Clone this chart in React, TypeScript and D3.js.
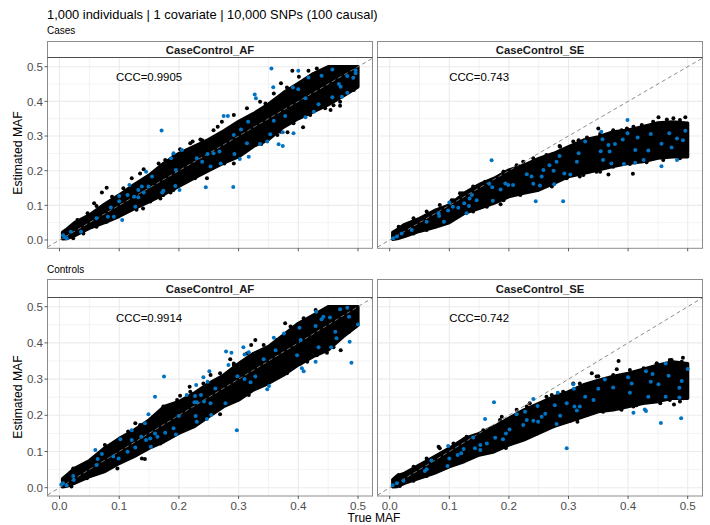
import React from "react";
import * as d3 from "d3";

type Pt = [number, number];

const titleText = "1,000 individuals | 1 covariate | 10,000 SNPs (100 causal)";
const tickValues = [0, 0.1, 0.2, 0.3, 0.4, 0.5];
const minorValues = [0.05, 0.15, 0.25, 0.35, 0.45];

// the ~10,000 black SNPs overlap into a solid mass, so it is kept as lower/upper edges read per MAF station
const stations = [0.005, 0.0125, 0.025, 0.05, 0.075, 0.1, 0.125, 0.15, 0.175, 0.2, 0.225, 0.25, 0.275, 0.3, 0.325, 0.35, 0.375, 0.4, 0.425, 0.45, 0.475, 0.5];

const casesAfLow = [0.003, 0.004, 0.012, 0.034, 0.05, 0.068, 0.09, 0.11, 0.132, 0.155, 0.178, 0.2, 0.222, 0.24, 0.27, 0.29, 0.325, 0.35, 0.37, 0.39, 0.415, 0.442];
const casesAfHigh = [0.022, 0.032, 0.05, 0.072, 0.103, 0.13, 0.16, 0.187, 0.222, 0.25, 0.27, 0.29, 0.315, 0.342, 0.365, 0.392, 0.425, 0.452, 0.48, 0.5, 0.5, 0.5];
const casesSeLow = [0.002, 0.004, 0.01, 0.025, 0.036, 0.05, 0.077, 0.091, 0.106, 0.125, 0.135, 0.144, 0.163, 0.183, 0.192, 0.202, 0.212, 0.221, 0.226, 0.236, 0.24, 0.24];
const casesSeHigh = [0.022, 0.03, 0.045, 0.062, 0.085, 0.101, 0.135, 0.16, 0.178, 0.202, 0.216, 0.235, 0.25, 0.269, 0.288, 0.298, 0.312, 0.317, 0.327, 0.338, 0.341, 0.337];
const controlsAfLow = [0.002, 0.004, 0.012, 0.03, 0.044, 0.067, 0.086, 0.109, 0.127, 0.15, 0.168, 0.196, 0.224, 0.242, 0.27, 0.288, 0.311, 0.339, 0.362, 0.38, 0.417, 0.449];
const controlsAfHigh = [0.025, 0.035, 0.053, 0.075, 0.109, 0.136, 0.159, 0.187, 0.224, 0.238, 0.261, 0.288, 0.311, 0.343, 0.371, 0.39, 0.422, 0.454, 0.477, 0.5, 0.5, 0.5];
const controlsSeLow = [0.002, 0.003, 0.012, 0.026, 0.04, 0.058, 0.072, 0.09, 0.099, 0.118, 0.132, 0.15, 0.169, 0.182, 0.196, 0.21, 0.215, 0.224, 0.233, 0.238, 0.247, 0.247];
const controlsSeHigh = [0.022, 0.033, 0.04, 0.063, 0.086, 0.109, 0.136, 0.15, 0.169, 0.192, 0.215, 0.233, 0.251, 0.265, 0.284, 0.297, 0.308, 0.316, 0.327, 0.339, 0.348, 0.343];

// black dots sitting on the rim of each mass
const casesAfRim: Pt[] = [[0.03, 0.058], [0.047, 0.077], [0.062, 0.098], [0.088, 0.125], [0.107, 0.149], [0.121, 0.178], [0.135, 0.192], [0.166, 0.221], [0.177, 0.231], [0.191, 0.245], [0.219, 0.279], [0.236, 0.29], [0.258, 0.317], [0.272, 0.341], [0.292, 0.361], [0.314, 0.38], [0.336, 0.399], [0.359, 0.423], [0.381, 0.44], [0.401, 0.471], [0.417, 0.488], [0.431, 0.495], [0.023, 0.005], [0.04, 0.019], [0.062, 0.038], [0.079, 0.053], [0.107, 0.077], [0.129, 0.087], [0.152, 0.111], [0.174, 0.13], [0.191, 0.144], [0.219, 0.183], [0.241, 0.197], [0.269, 0.221], [0.292, 0.245], [0.32, 0.269], [0.342, 0.284], [0.365, 0.303], [0.392, 0.337], [0.42, 0.361], [0.445, 0.38], [0.47, 0.399], [0.493, 0.433]];
const casesSeRim: Pt[] = [[0.015, 0.038], [0.04, 0.0625], [0.062, 0.082], [0.084, 0.101], [0.107, 0.115], [0.118, 0.135], [0.14, 0.154], [0.16, 0.168], [0.191, 0.197], [0.213, 0.216], [0.241, 0.236], [0.263, 0.245], [0.286, 0.269], [0.308, 0.284], [0.331, 0.296], [0.353, 0.306], [0.375, 0.317], [0.398, 0.322], [0.423, 0.332], [0.442, 0.341], [0.465, 0.348], [0.487, 0.346], [0.017, 0.008], [0.04, 0.019], [0.062, 0.029], [0.09, 0.048], [0.112, 0.067], [0.14, 0.082], [0.163, 0.096], [0.191, 0.115], [0.219, 0.13], [0.247, 0.144], [0.272, 0.154], [0.297, 0.178], [0.325, 0.1875], [0.347, 0.197], [0.375, 0.2115], [0.403, 0.219], [0.431, 0.224], [0.459, 0.231], [0.487, 0.236]];
const controlsAfRim: Pt[] = [[0.023, 0.053], [0.046, 0.067], [0.068, 0.095], [0.09, 0.122], [0.115, 0.155], [0.135, 0.173], [0.157, 0.196], [0.174, 0.224], [0.197, 0.242], [0.219, 0.265], [0.241, 0.288], [0.269, 0.316], [0.292, 0.339], [0.314, 0.371], [0.342, 0.394], [0.364, 0.408], [0.387, 0.445], [0.409, 0.468], [0.429, 0.491], [0.02, 0.003], [0.046, 0.026], [0.068, 0.044], [0.09, 0.063], [0.115, 0.086], [0.141, 0.104], [0.163, 0.127], [0.191, 0.148], [0.219, 0.173], [0.241, 0.196], [0.264, 0.219], [0.292, 0.242], [0.32, 0.274], [0.348, 0.293], [0.376, 0.32], [0.404, 0.343], [0.431, 0.366], [0.459, 0.388], [0.485, 0.431]];
const controlsSeRim: Pt[] = [[0.015, 0.035], [0.04, 0.058], [0.062, 0.081], [0.084, 0.109], [0.107, 0.122], [0.129, 0.141], [0.157, 0.159], [0.185, 0.187], [0.213, 0.215], [0.235, 0.233], [0.263, 0.251], [0.291, 0.265], [0.319, 0.288], [0.347, 0.307], [0.375, 0.311], [0.403, 0.325], [0.426, 0.33], [0.448, 0.343], [0.47, 0.353], [0.49, 0.348], [0.017, 0.005], [0.04, 0.019], [0.062, 0.032], [0.084, 0.049], [0.112, 0.067], [0.14, 0.086], [0.163, 0.097], [0.191, 0.113], [0.219, 0.132], [0.247, 0.15], [0.275, 0.17], [0.303, 0.185], [0.331, 0.201], [0.358, 0.21], [0.386, 0.219], [0.414, 0.228], [0.442, 0.238], [0.47, 0.242], [0.493, 0.247]];

const casesAfStray: Pt[] = [[0.079, 0.151], [0.071, 0.137], [0.058, 0.106], [0.141, 0.204], [0.265, 0.327], [0.39, 0.488], [0.371, 0.452], [0.47, 0.387], [0.408, 0.325], [0.382, 0.311], [0.37, 0.3125], [0.353, 0.303], [0.338, 0.277], [0.292, 0.221], [0.276, 0.221], [0.247, 0.178], [0.227, 0.178], [0.188, 0.144], [0.186, 0.137], [0.169, 0.12], [0.14, 0.091], [0.202, 0.262], [0.223, 0.284], [0.239, 0.288], [0.345, 0.394], [0.459, 0.389], [0.454, 0.375]];
const casesAfCausal: Pt[] = [[0.355, 0.495], [0.4, 0.488], [0.171, 0.316], [0.327, 0.42], [0.329, 0.409], [0.358, 0.441], [0.275, 0.358], [0.282, 0.358], [0.391, 0.44], [0.4, 0.435], [0.457, 0.492], [0.496, 0.49], [0.482, 0.473], [0.492, 0.468], [0.496, 0.481], [0.417, 0.469], [0.439, 0.474], [0.468, 0.45], [0.471, 0.442], [0.482, 0.425], [0.473, 0.413], [0.457, 0.412], [0.434, 0.392], [0.412, 0.409], [0.426, 0.37], [0.412, 0.354], [0.378, 0.358], [0.359, 0.344], [0.316, 0.341], [0.292, 0.303], [0.304, 0.319], [0.314, 0.279], [0.353, 0.305], [0.374, 0.311], [0.392, 0.308], [0.367, 0.276], [0.374, 0.271], [0.348, 0.284], [0.336, 0.277], [0.317, 0.24], [0.302, 0.234], [0.293, 0.248], [0.268, 0.255], [0.258, 0.25], [0.248, 0.248], [0.23, 0.236], [0.239, 0.226], [0.253, 0.212], [0.27, 0.221], [0.245, 0.152], [0.291, 0.153], [0.205, 0.26], [0.191, 0.25], [0.187, 0.236], [0.195, 0.202], [0.194, 0.156], [0.201, 0.144], [0.174, 0.142], [0.172, 0.137], [0.145, 0.197], [0.155, 0.183], [0.149, 0.154], [0.138, 0.154], [0.132, 0.144], [0.141, 0.137], [0.125, 0.125], [0.132, 0.123], [0.127, 0.096], [0.117, 0.159], [0.114, 0.13], [0.1, 0.127], [0.1, 0.112], [0.086, 0.094], [0.081, 0.067], [0.091, 0.067], [0.062, 0.0625], [0.105, 0.058], [0.036, 0.024], [0.019, 0.024], [0.009, 0.008], [0.006, 0.014], [0.012, 0.005]];

const casesSeStray: Pt[] = [[0.451, 0.354], [0.476, 0.351], [0.496, 0.354], [0.35, 0.322], [0.408, 0.191], [0.367, 0.189], [0.353, 0.197], [0.186, 0.103], [0.122, 0.135], [0.333, 0.197], [0.319, 0.183], [0.285, 0.271], [0.263, 0.236], [0.409, 0.327], [0.389, 0.317], [0.431, 0.322], [0.468, 0.245], [0.48, 0.242], [0.317, 0.288], [0.224, 0.226], [0.191, 0.197], [0.146, 0.154], [0.104, 0.115]];
const casesSeCausal: Pt[] = [[0.171, 0.23], [0.399, 0.346], [0.355, 0.3125], [0.399, 0.308], [0.357, 0.291], [0.328, 0.284], [0.367, 0.274], [0.378, 0.277], [0.391, 0.29], [0.416, 0.296], [0.438, 0.306], [0.469, 0.308], [0.496, 0.315], [0.482, 0.293], [0.492, 0.288], [0.456, 0.278], [0.473, 0.267], [0.434, 0.258], [0.412, 0.26], [0.369, 0.255], [0.354, 0.256], [0.317, 0.25], [0.314, 0.226], [0.358, 0.231], [0.372, 0.221], [0.393, 0.219], [0.412, 0.223], [0.426, 0.231], [0.456, 0.213], [0.482, 0.231], [0.285, 0.242], [0.28, 0.226], [0.268, 0.216], [0.275, 0.2], [0.258, 0.202], [0.293, 0.192], [0.303, 0.189], [0.276, 0.161], [0.252, 0.157], [0.241, 0.162], [0.245, 0.112], [0.291, 0.112], [0.23, 0.19], [0.238, 0.183], [0.255, 0.183], [0.194, 0.163], [0.199, 0.159], [0.207, 0.159], [0.186, 0.146], [0.173, 0.113], [0.167, 0.162], [0.172, 0.152], [0.146, 0.115], [0.138, 0.13], [0.134, 0.12], [0.125, 0.106], [0.133, 0.098], [0.115, 0.093], [0.106, 0.096], [0.098, 0.085], [0.1, 0.108], [0.082, 0.077], [0.083, 0.069], [0.091, 0.053], [0.062, 0.053], [0.037, 0.029], [0.02, 0.019], [0.012, 0.01], [0.006, 0.005], [0.129, 0.077]];

const controlsAfStray: Pt[] = [[0.097, 0.053], [0.138, 0.081], [0.143, 0.079], [0.378, 0.454], [0.328, 0.408], [0.286, 0.355], [0.471, 0.38], [0.448, 0.373], [0.415, 0.348], [0.381, 0.316], [0.317, 0.256], [0.269, 0.203], [0.169, 0.122], [0.218, 0.279], [0.202, 0.254], [0.127, 0.178], [0.253, 0.311], [0.321, 0.394], [0.292, 0.343], [0.076, 0.118], [0.462, 0.408]];
const controlsAfCausal: Pt[] = [[0.489, 0.345], [0.486, 0.403], [0.5, 0.451], [0.485, 0.472], [0.47, 0.493], [0.482, 0.497], [0.43, 0.486], [0.442, 0.472], [0.439, 0.465], [0.453, 0.47], [0.429, 0.447], [0.402, 0.442], [0.376, 0.426], [0.359, 0.414], [0.362, 0.38], [0.404, 0.408], [0.434, 0.388], [0.455, 0.388], [0.464, 0.413], [0.462, 0.431], [0.398, 0.366], [0.429, 0.348], [0.406, 0.33], [0.409, 0.322], [0.342, 0.355], [0.328, 0.307], [0.308, 0.388], [0.31, 0.368], [0.317, 0.374], [0.279, 0.376], [0.288, 0.373], [0.283, 0.339], [0.298, 0.308], [0.31, 0.3], [0.32, 0.291], [0.251, 0.322], [0.241, 0.305], [0.248, 0.293], [0.261, 0.274], [0.229, 0.284], [0.213, 0.256], [0.227, 0.253], [0.237, 0.256], [0.226, 0.236], [0.23, 0.236], [0.242, 0.238], [0.253, 0.233], [0.278, 0.233], [0.348, 0.272], [0.351, 0.281], [0.228, 0.198], [0.23, 0.182], [0.247, 0.19], [0.254, 0.201], [0.297, 0.159], [0.2, 0.198], [0.175, 0.307], [0.16, 0.251], [0.149, 0.203], [0.143, 0.178], [0.121, 0.159], [0.121, 0.132], [0.102, 0.134], [0.137, 0.141], [0.145, 0.132], [0.152, 0.136], [0.16, 0.15], [0.164, 0.141], [0.177, 0.152], [0.191, 0.164], [0.195, 0.147], [0.153, 0.113], [0.127, 0.111], [0.114, 0.099], [0.09, 0.086], [0.099, 0.081], [0.06, 0.104], [0.071, 0.093], [0.064, 0.079], [0.062, 0.063], [0.023, 0.032], [0.024, 0.021], [0.006, 0.012], [0.012, 0.006], [0.003, 0.009]];

const controlsSeStray: Pt[] = [[0.384, 0.35], [0.492, 0.359], [0.473, 0.353], [0.381, 0.327], [0.339, 0.316], [0.35, 0.308], [0.315, 0.182], [0.409, 0.224], [0.477, 0.23], [0.195, 0.11], [0.166, 0.109], [0.188, 0.196], [0.23, 0.224], [0.272, 0.256], [0.308, 0.288], [0.454, 0.233], [0.487, 0.238], [0.082, 0.113], [0.14, 0.141], [0.389, 0.215], [0.448, 0.343]];
const controlsSeCausal: Pt[] = [[0.5, 0.328], [0.463, 0.343], [0.468, 0.309], [0.49, 0.295], [0.441, 0.314], [0.43, 0.322], [0.451, 0.286], [0.438, 0.293], [0.406, 0.288], [0.4, 0.305], [0.361, 0.299], [0.375, 0.277], [0.35, 0.273], [0.403, 0.262], [0.434, 0.251], [0.463, 0.251], [0.486, 0.276], [0.486, 0.249], [0.489, 0.192], [0.455, 0.179], [0.409, 0.207], [0.428, 0.216], [0.43, 0.212], [0.308, 0.286], [0.309, 0.273], [0.241, 0.245], [0.282, 0.262], [0.328, 0.251], [0.342, 0.242], [0.297, 0.233], [0.277, 0.228], [0.31, 0.224], [0.319, 0.224], [0.314, 0.213], [0.248, 0.226], [0.297, 0.109], [0.175, 0.236], [0.16, 0.19], [0.213, 0.203], [0.227, 0.21], [0.261, 0.204], [0.255, 0.196], [0.241, 0.185], [0.249, 0.182], [0.23, 0.187], [0.224, 0.173], [0.286, 0.199], [0.28, 0.176], [0.201, 0.161], [0.195, 0.15], [0.177, 0.138], [0.19, 0.134], [0.163, 0.122], [0.152, 0.118], [0.143, 0.109], [0.152, 0.104], [0.14, 0.139], [0.124, 0.107], [0.12, 0.095], [0.114, 0.09], [0.098, 0.115], [0.1, 0.081], [0.097, 0.06], [0.07, 0.075], [0.062, 0.051], [0.059, 0.046], [0.023, 0.019], [0.012, 0.012], [0.005, 0.007]];

const FONT = "'Liberation Sans', Arial, sans-serif";
const BORDER = "#8c8c8c";
const GRID = "#ebebeb";
const TICK_TEXT = "#4d4d4d";
const BLUE = "#0073c2";

function Panel(props: any) {
  const { id, left, right, stripTop, top, bottom, yZero, yHalf, xZero, xHalf, name, ccc, low, high, rim, stray, causal, yAxis, xLabels } = props;
  const x = d3.scaleLinear().domain([0, 0.5]).range([xZero, xHalf]);
  const y = d3.scaleLinear().domain([0, 0.5]).range([yZero, yHalf]);
  const cloud = d3.area<number>()
    .x((d) => x(d))
    .y0((_, i) => y(low[i]))
    .y1((_, i) => y(high[i]));
  // dashed identity line runs across the full panel
  const lineEnds = [x.invert(left), x.invert(right)];
  const black: Pt[] = rim.concat(stray);
  return (
    <g>
      <clipPath id={id}>
        <rect x={left} y={top} width={right - left} height={bottom - top} />
      </clipPath>
      <rect x={left} y={top} width={right - left} height={bottom - top} fill="#fff" />
      {minorValues.map((v) => (
        <g key={v} stroke={GRID} strokeWidth={0.6}>
          <line x1={x(v)} x2={x(v)} y1={top} y2={bottom} />
          <line x1={left} x2={right} y1={y(v)} y2={y(v)} />
        </g>
      ))}
      {tickValues.map((v) => (
        <g key={v} stroke={GRID} strokeWidth={1.1}>
          <line x1={x(v)} x2={x(v)} y1={top} y2={bottom} />
          <line x1={left} x2={right} y1={y(v)} y2={y(v)} />
        </g>
      ))}
      <g clipPath={`url(#${id})`}>
        {/* stroke about one dot wide, the mass is made of dots of that size */}
        <path d={cloud(stations) as string} fill="#000" stroke="#000" strokeWidth={3.2} strokeLinejoin="round" />
        {black.map((d: Pt, i: number) => (
          <circle key={i} cx={x(d[0])} cy={y(d[1])} r={2} fill="#000" />
        ))}
        <line x1={x(lineEnds[0])} y1={y(lineEnds[0])} x2={x(lineEnds[1])} y2={y(lineEnds[1])} stroke="#7f7f7f" strokeWidth={0.9} strokeDasharray="4 3" />
        {causal.map((d: Pt, i: number) => (
          <circle key={i} cx={x(d[0])} cy={y(d[1])} r={2} fill={BLUE} />
        ))}
      </g>
      <text x={x(0.15)} y={y(0.47)} dy="0.36em" textAnchor="middle" fontSize={11.4} fill="#000">{ccc}</text>
      <rect x={left} y={stripTop} width={right - left} height={top - stripTop} fill="#fff" stroke={BORDER} strokeWidth={1} />
      <text x={(left + right) / 2} y={(stripTop + top) / 2} dy="0.36em" textAnchor="middle" fontSize={11.3} fontWeight="bold" fill="#1a1a1a">{name}</text>
      <rect x={left} y={top} width={right - left} height={bottom - top} fill="none" stroke={BORDER} strokeWidth={1} />
      <line x1={left} x2={right} y1={top} y2={top} stroke="#4d4d4d" strokeWidth={1} />
      {tickValues.map((v) => (
        <g key={v}>
          <line x1={x(v)} x2={x(v)} y1={bottom} y2={bottom + 3} stroke="#333" strokeWidth={0.8} />
          {xLabels && (
            <text x={x(v)} y={bottom + 13.5} textAnchor="middle" fontSize={11.6} fill={TICK_TEXT}>{d3.format(".1f")(v)}</text>
          )}
          {yAxis && (
            <g>
              <line x1={left - 3} x2={left} y1={y(v)} y2={y(v)} stroke="#333" strokeWidth={0.8} />
              <text x={left - 3} y={y(v)} dx={-1.5} dy="0.36em" textAnchor="end" fontSize={11.6} fill={TICK_TEXT}>{d3.format(".1f")(v)}</text>
            </g>
          )}
        </g>
      ))}
    </g>
  );
}

export default function App() {
  const topRow = { stripTop: 41.5, top: 57.5, bottom: 248.3, yZero: 240, yHalf: 66.7 };
  const bottomRow = { stripTop: 279.5, top: 297.5, bottom: 496, yZero: 487.7, yHalf: 306.7 };
  const leftCol = { left: 47.5, right: 372.5, xZero: 59.5, xHalf: 358 };
  const rightCol = { left: 377.5, right: 702.5, xZero: 389.7, xHalf: 687.7 };
  return (
    <svg width={710} height={525} style={{ position: "absolute", left: 0, top: 0, background: "#fff" }} fontFamily={FONT}>
      <text x={47} y={19} fontSize={12.9} fill="#000">{titleText}</text>
      <text x={47} y={34} fontSize={10} fill="#000">Cases</text>
      <text x={47} y={273} fontSize={10} fill="#000">Controls</text>

      <Panel id="p1" {...topRow} {...leftCol} name="CaseControl_AF" ccc="CCC=0.9905" low={casesAfLow} high={casesAfHigh} rim={casesAfRim} stray={casesAfStray} causal={casesAfCausal} yAxis />
      <Panel id="p2" {...topRow} {...rightCol} name="CaseControl_SE" ccc="CCC=0.743" low={casesSeLow} high={casesSeHigh} rim={casesSeRim} stray={casesSeStray} causal={casesSeCausal} />
      <Panel id="p3" {...bottomRow} {...leftCol} name="CaseControl_AF" ccc="CCC=0.9914" low={controlsAfLow} high={controlsAfHigh} rim={controlsAfRim} stray={controlsAfStray} causal={controlsAfCausal} yAxis xLabels />
      <Panel id="p4" {...bottomRow} {...rightCol} name="CaseControl_SE" ccc="CCC=0.742" low={controlsSeLow} high={controlsSeHigh} rim={controlsSeRim} stray={controlsSeStray} causal={controlsSeCausal} xLabels />

      <text transform="translate(22,153) rotate(-90)" textAnchor="middle" fontSize={12.2} fill="#000">Estimated MAF</text>
      <text transform="translate(22,397) rotate(-90)" textAnchor="middle" fontSize={12.2} fill="#000">Estimated MAF</text>
      <text x={374} y={522} textAnchor="middle" fontSize={12} fill="#000">True MAF</text>
    </svg>
  );
}
